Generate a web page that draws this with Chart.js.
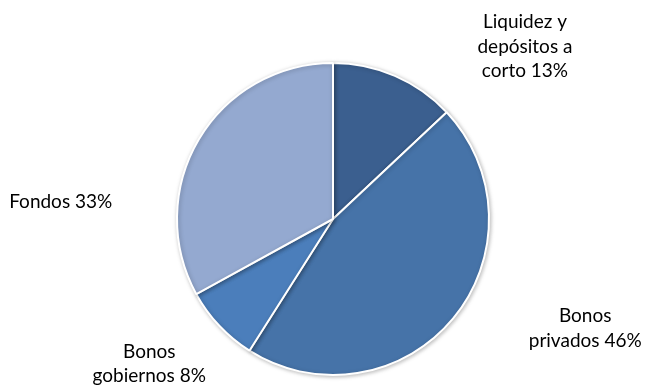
<!DOCTYPE html>
<html>
<head>
<meta charset="utf-8">
<script src="https://cdn.jsdelivr.net/npm/chart.js@4"></script>
<style>
  html, body { margin: 0; padding: 0; background: #fff; }
  #wrap { width: 646px; height: 387px; }
</style>
</head>
<body>
<div id="wrap"><canvas id="pieChart" width="646" height="387"></canvas></div>
<script>
const categories = ["Liquidez y depósitos a corto", "Bonos privados", "Bonos gobiernos", "Fondos"];
const labelLines = [["Liquidez y", "depósitos a", "corto 13%"], ["Bonos", "privados 46%"], ["Bonos", "gobiernos 8%"], ["Fondos 33%"]];
const shares = [13, 46, 8, 33];
const sliceColors = ["#3B5F8F", "#4673A8", "#4B7EBB", "#94A9D0"];

// label offsets from the outer edge of each slice (at its mid angle)
const labelOffsets = [[130, -29], [132, 10], [-70, 38], [-138, 62]];

const outsideLabels = {
    id: 'outsideLabels',
    afterDatasetsDraw(chart) {
        const ctx = chart.ctx;
        const meta = chart.getDatasetMeta(0);
        ctx.save();
        ctx.font = '19px Lato, "Open Sans", sans-serif';
        ctx.fillStyle = "#000";
        ctx.textAlign = "center";
        ctx.textBaseline = "middle";
        meta.data.forEach((arc, i) => {
            const mid = (arc.startAngle + arc.endAngle) / 2;
            const ex = arc.x + Math.cos(mid) * arc.outerRadius;
            const ey = arc.y + Math.sin(mid) * arc.outerRadius;
            const lines = labelLines[i];
            const lh = 24.5;
            const cx = ex + labelOffsets[i][0];
            const cy = ey + labelOffsets[i][1] - (lines.length - 1) * lh / 2;
            lines.forEach((line, j) => ctx.fillText(line, cx, cy + j * lh));
        });
        ctx.restore();
    }
};

const pieShadow = {
    id: 'pieShadow',
    beforeDatasetsDraw(chart) {
        const ctx = chart.ctx;
        ctx.save();
        ctx.shadowColor = "rgba(0,0,0,0.25)";
        ctx.shadowBlur = 4;
        ctx.shadowOffsetX = 1;
        ctx.shadowOffsetY = 1;
    },
    afterDatasetsDraw(chart) {
        chart.ctx.restore();
    }
};

new Chart(document.getElementById("pieChart").getContext("2d"), {
    type: "pie",
    data: {
        labels: categories,
        datasets: [{
            data: shares,
            backgroundColor: sliceColors,
            borderColor: "#fff",
            borderWidth: 2
        }]
    },
    options: {
        responsive: false,
        animation: false,
        layout: { padding: { top: 62, bottom: 11, left: 20, right: 0 } },
        plugins: {
            legend: { display: false },
            tooltip: { enabled: false }
        }
    },
    plugins: [pieShadow, outsideLabels]
});
</script>
</body>
</html>
